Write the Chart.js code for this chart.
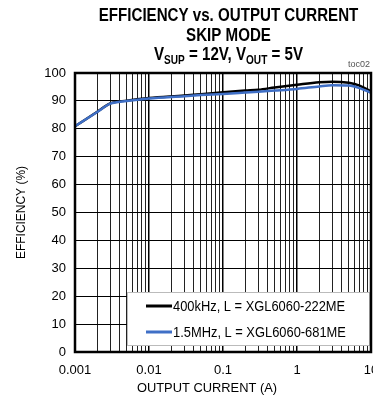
<!DOCTYPE html>
<html><head><meta charset="utf-8">
<script src="https://cdn.jsdelivr.net/npm/chart.js@4/dist/chart.umd.min.js"></script>
<style>html,body{margin:0;padding:0;overflow:hidden;background:#fff;width:373px;height:402px}canvas{display:block}</style>
</head><body>
<canvas id="c" width="400" height="402"></canvas>
<script>
const current = [0.001, 0.002, 0.003, 0.005, 0.01, 0.03, 0.05, 0.1, 0.2, 0.3, 0.5, 1, 2, 3, 5, 7, 10];
const eff400k = [80.9, 86.1, 89.1, 90.1, 91.0, 91.9, 92.4, 93.1, 93.7, 94.0, 94.8, 95.8, 96.7, 96.9, 96.5, 95.5, 93.4];
const eff15M  = [80.9, 86.0, 89.0, 90.0, 90.9, 91.7, 92.1, 92.5, 93.0, 93.3, 93.7, 94.3, 95.2, 95.6, 95.5, 94.6, 92.9];
const seriesLabels = ['400kHz, L = XGL6060-222ME', '1.5MHz, L = XGL6060-681ME'];
const xTickLabels = ['0.001', '0.01', '0.1', '1', '10'];
const yTicks = [0, 10, 20, 30, 40, 50, 60, 70, 80, 90, 100];

const FONT = '"Liberation Sans", Arial, sans-serif';
const isMajor = v => Math.abs(Math.log10(v) - Math.round(Math.log10(v))) < 1e-6;

const decor = {
  id: 'decor',
  beforeDatasetsDraw(chart) {
    const {ctx} = chart;
    ctx.save();
    ctx.fillStyle = '#fff';
    ctx.fillRect(128, 293, 241, 52);
    ctx.strokeStyle = '#bbb';
    ctx.lineWidth = 1;
    ctx.strokeRect(127.5, 292.5, 242, 53);
    ctx.restore();
  },
  afterDraw(chart) {
    const {ctx, chartArea: a} = chart;
    ctx.save();
    ctx.strokeStyle = '#000';
    ctx.lineWidth = 2.5;
    ctx.strokeRect(a.left, a.top, a.right - a.left, a.bottom - a.top);
    ctx.fillStyle = '#000';
    ctx.textBaseline = 'alphabetic';
    const drawCond = (txt, cx, y, font, sx) => {
      ctx.save();
      ctx.font = font;
      ctx.translate(cx, y);
      ctx.scale(sx, 1);
      ctx.textAlign = 'center';
      ctx.fillText(txt, 0, 0);
      ctx.restore();
    };
    const sx = 0.84;
    const tf = 'bold 18px ' + FONT;
    drawCond('EFFICIENCY vs. OUTPUT CURRENT', 228.5, 21, tf, sx);
    drawCond('SKIP MODE', 228.5, 41, tf, sx);
    const parts = [['V', 18, 0], ['SUP', 12, 4], [' = 12V, V', 18, 0], ['OUT', 12, 4], [' = 5V', 18, 0]];
    let total = 0;
    parts.forEach(p => { ctx.font = 'bold ' + p[1] + 'px ' + FONT; total += ctx.measureText(p[0]).width * sx; });
    let x = 228.5 - total / 2;
    parts.forEach(p => {
      ctx.save();
      ctx.font = 'bold ' + p[1] + 'px ' + FONT;
      ctx.translate(x, 60 + p[2]);
      ctx.scale(sx, 1);
      ctx.textAlign = 'left';
      ctx.fillText(p[0], 0, 0);
      const w = ctx.measureText(p[0]).width * sx;
      ctx.restore();
      x += w;
    });
    ctx.font = '9px ' + FONT;
    ctx.fillStyle = '#555';
    ctx.textAlign = 'right';
    ctx.fillText('toc02', 370, 67);
    ctx.fillStyle = '#000';
    drawCond('OUTPUT CURRENT (A)', 207, 392, '13px ' + FONT, 0.99);
    ctx.save();
    ctx.translate(25, (a.top + a.bottom) / 2);
    ctx.rotate(-Math.PI / 2);
    ctx.scale(0.92, 1);
    ctx.font = '13px ' + FONT;
    ctx.textAlign = 'center';
    ctx.fillText('EFFICIENCY (%)', 0, 0);
    ctx.restore();
    chart.data.datasets.forEach((d, i) => {
      const y = 306 + i * 26;
      ctx.strokeStyle = d.borderColor;
      ctx.lineWidth = 3;
      ctx.beginPath(); ctx.moveTo(146, y); ctx.lineTo(172, y); ctx.stroke();
      ctx.fillStyle = '#000';
      ctx.save();
      ctx.translate(173, y + 5);
      ctx.scale(0.92, 1);
      ctx.font = '14px ' + FONT;
      ctx.textAlign = 'left';
      ctx.fillText(d.label, 0, 0);
      ctx.restore();
    });
    ctx.restore();
  }
};

new Chart(document.getElementById('c'), {
  type: 'line',
  data: {
    datasets: [
      { label: seriesLabels[0], order: 1, data: current.map((x, i) => ({x, y: eff400k[i]})), borderColor: '#000000', borderWidth: 2.5, pointRadius: 0, cubicInterpolationMode: 'monotone', fill: false },
      { label: seriesLabels[1], order: 0, data: current.map((x, i) => ({x, y: eff15M[i]})), borderColor: '#3f6fc6', borderWidth: 2.5, pointRadius: 0, cubicInterpolationMode: 'monotone', fill: false }
    ]
  },
  options: {
    responsive: false,
    animation: false,
    devicePixelRatio: 1,
    layout: { padding: { top: 73, right: 29, left: 0, bottom: 0 } },
    plugins: { legend: { display: false }, title: { display: false }, tooltip: { enabled: false } },
    scales: {
      x: {
        type: 'logarithmic', min: 0.001, max: 10,
        afterFit(s) { s.height = 50; },
        afterBuildTicks(s) {
          const t = [];
          for (let e = -3; e <= 1; e++) for (let m = 1; m <= 9; m++) { const v = m * Math.pow(10, e); if (v <= 10.0001) t.push({value: v}); }
          s.ticks = t;
        },
        grid: {
          drawTicks: false,
          color: c => isMajor(c.tick.value) ? '#000' : '#222',
          lineWidth: c => isMajor(c.tick.value) ? 1.5 : 1
        },
        border: { display: false },
        ticks: {
          autoSkip: false, maxRotation: 0, padding: 11, color: '#000',
          font: { family: FONT, size: 13 },
          callback: v => isMajor(v) ? xTickLabels[Math.round(Math.log10(v)) + 3] : ''
        }
      },
      y: {
        min: 0, max: 100,
        afterFit(s) { s.width = 75; },
        afterBuildTicks(s) { s.ticks = yTicks.map(v => ({value: v})); },
        grid: { drawTicks: false, color: '#000', lineWidth: 1 },
        border: { display: false },
        ticks: { padding: 9, color: '#000', font: { family: FONT, size: 13 } }
      }
    }
  },
  plugins: [decor]
});
</script>
</body></html>
